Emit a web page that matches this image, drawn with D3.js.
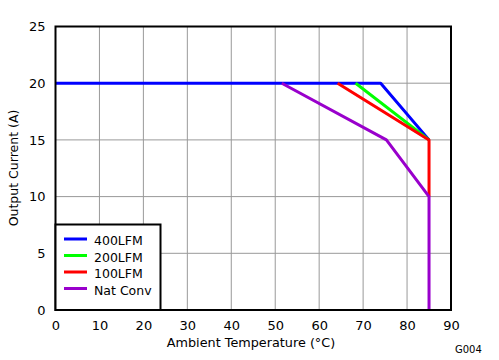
<!DOCTYPE html>
<html><head><meta charset="utf-8">
<script src="https://cdn.jsdelivr.net/npm/d3@7"></script>
<style>body{margin:0;background:#fff}svg{display:block}text{font-family:"DejaVu Sans",sans-serif}</style>
</head><body><svg id="c" width="499" height="360"></svg>
<script>
const xTicks = [0,10,20,30,40,50,60,70,80,90];
const yTicks = [0,5,10,15,20,25];
const seriesNames = ["400LFM","200LFM","100LFM","Nat Conv"];
const seriesColors = ["#0000ff","#00ff00","#ff0000","#9900cc"];
const lfm400 = [[0,20],[74,20],[85,15]];
const lfm200 = [[68.3,20],[85,15]];
const lfm100 = [[64.2,20],[85,15],[85,10]];
const natConv = [[51.5,20],[75.3,15],[85,10],[85,0]];
const seriesData = [lfm400,lfm200,lfm100,natConv];

const svg = d3.select("#c");
const x = d3.scaleLinear().domain([0,90]).range([55.5,451]);
const y = d3.scaleLinear().domain([0,25]).range([310,26.5]);
const tickFont = "'Liberation Sans Narrow','Liberation Sans',Arial,sans-serif";

// grid
svg.append("g").selectAll("line").data(xTicks.slice(1,-1)).join("line")
  .attr("x1",d=>x(d)).attr("x2",d=>x(d)).attr("y1",y(0)).attr("y2",y(25))
  .attr("stroke","#999").attr("stroke-width",1);
svg.append("g").selectAll("line").data(yTicks.slice(1,-1)).join("line")
  .attr("y1",d=>y(d)).attr("y2",d=>y(d)).attr("x1",x(0)).attr("x2",x(90))
  .attr("stroke","#999").attr("stroke-width",1);

// axes labels
const xa = svg.append("g").attr("transform",`translate(0,${y(0)})`)
  .call(d3.axisBottom(x).tickValues(xTicks).tickSize(0).tickPadding(11));
xa.select(".domain").remove();
xa.selectAll("text").attr("font-size","13px").attr("fill","#000").attr("font-family",tickFont);
const ya = svg.append("g").attr("transform",`translate(${x(0)},0)`)
  .call(d3.axisLeft(y).tickValues(yTicks).tickSize(0).tickPadding(10));
ya.select(".domain").remove();
ya.selectAll("text").attr("font-size","13px").attr("fill","#000").attr("font-family",tickFont);

// lines
const line = d3.line().x(d=>x(d[0])).y(d=>y(d[1]));
svg.append("g").selectAll("path").data(seriesData).join("path")
  .attr("d",line).attr("fill","none").attr("stroke",(d,i)=>seriesColors[i])
  .attr("stroke-width",3).attr("stroke-linejoin","round");

// frame
svg.append("rect").attr("x",x(0)).attr("y",y(25)).attr("width",x(90)-x(0)).attr("height",y(0)-y(25))
  .attr("fill","none").attr("stroke","#000").attr("stroke-width",2);

// legend
const lg = svg.append("g");
lg.append("rect").attr("x",55.5).attr("y",224.5).attr("width",105).attr("height",85.5)
  .attr("fill","#fff").attr("stroke","#000").attr("stroke-width",2);
seriesNames.forEach((n,i)=>{
  const yy = 239 + i*16.5;
  lg.append("line").attr("x1",64).attr("x2",87).attr("y1",yy).attr("y2",yy)
    .attr("stroke",seriesColors[i]).attr("stroke-width",3);
  lg.append("text").attr("x",94).attr("y",yy+6).attr("font-size","12.5px").text(n);
});

// titles
svg.append("text").attr("x",251).attr("y",347).attr("text-anchor","middle").attr("font-size","12.8px")
  .text("Ambient Temperature (°C)");
svg.append("text").attr("transform",`translate(18,168) rotate(-90)`).attr("text-anchor","middle")
  .attr("font-size","12.5px").text("Output Current (A)");
svg.append("text").attr("x",455).attr("y",353).attr("font-size","10px")
  .attr("font-family","'Liberation Sans',Arial,sans-serif").text("G004");
</script></body></html>
